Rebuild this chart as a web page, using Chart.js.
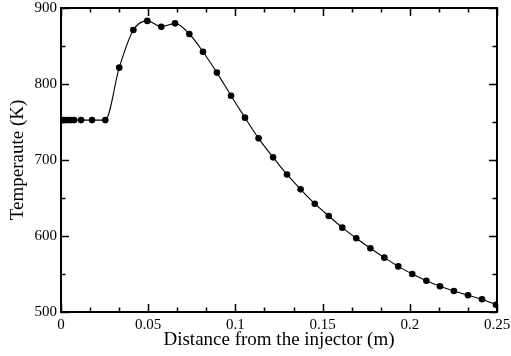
<!DOCTYPE html>
<html>
<head>
<meta charset="utf-8">
<script src="https://cdn.jsdelivr.net/npm/chart.js@4/dist/chart.umd.min.js"></script>
<style>
  html, body { margin: 0; padding: 0; background: #fff; }
  #wrap { width: 511px; height: 356px; }
</style>
</head>
<body>
<div id="wrap"><canvas id="c" width="511" height="356"></canvas></div>
<script>
const distance = [0.0010, 0.0027, 0.0042, 0.0057, 0.0075, 0.0115, 0.0178, 0.0254,
  0.0334, 0.0415, 0.0495, 0.0575, 0.0654, 0.0736, 0.0814, 0.0894, 0.0975, 0.1055,
  0.1133, 0.1216, 0.1296, 0.1374, 0.1455, 0.1535, 0.1613, 0.1693, 0.1774, 0.1854,
  0.1934, 0.2014, 0.2095, 0.2173, 0.2253, 0.2334, 0.2414, 0.2494];
const temperature = [752.5, 752.5, 752.5, 752.5, 752.5, 752.5, 752.5, 752.5,
  821.5, 871, 883, 875.4, 879.8, 865.8, 842.5, 815, 784.6, 755.7,
  728.5, 703.5, 681, 661.4, 642.5, 626.3, 611, 597, 583.8, 571.5,
  560, 550, 541.2, 533.8, 527.6, 522, 516.7, 509.6];
const xTickLabels = [0, 0.05, 0.1, 0.15, 0.2, 0.25];
const yTickLabels = [500, 600, 700, 800, 900];
const xMinorStep = 0.05 / 3;
const yMinorStep = 50;

const serif = "'Liberation Serif', 'Times New Roman', serif";

function zeroPad(s) {
  s.paddingLeft = 0; s.paddingRight = 0; s.paddingTop = 0; s.paddingBottom = 0;
}

const frameTicks = {
  id: 'frameTicks',
  afterDraw(chart) {
    const ctx = chart.ctx;
    const a = chart.chartArea;
    const xs = chart.scales.x, ys = chart.scales.y;
    ctx.save();
    ctx.strokeStyle = '#000';
    ctx.lineWidth = 1.5;
    const nX = Math.round((xs.max - xs.min) / xMinorStep);
    for (let i = 0; i <= nX; i++) {
      const v = xs.min + i * xMinorStep;
      const px = Math.round(xs.getPixelForValue(v)) + 0.5;
      const len = (i % 3 === 0) ? 8 : 4.5;
      ctx.beginPath();
      ctx.moveTo(px, a.bottom); ctx.lineTo(px, a.bottom - len);
      ctx.moveTo(px, a.top); ctx.lineTo(px, a.top + len);
      ctx.stroke();
    }
    const nY = Math.round((ys.max - ys.min) / yMinorStep);
    for (let i = 0; i <= nY; i++) {
      const v = ys.min + i * yMinorStep;
      const py = Math.round(ys.getPixelForValue(v)) + 0.5;
      const len = (i % 2 === 0) ? 8 : 4.5;
      ctx.beginPath();
      ctx.moveTo(a.left, py); ctx.lineTo(a.left + len, py);
      ctx.moveTo(a.right, py); ctx.lineTo(a.right - len, py);
      ctx.stroke();
    }
    ctx.lineWidth = 2;
    ctx.strokeRect(a.left, a.top, a.right - a.left, a.bottom - a.top);
    ctx.restore();
  }
};

new Chart(document.getElementById('c'), {
  type: 'scatter',
  data: {
    datasets: [{
      data: distance.map((d, i) => ({ x: d, y: temperature[i] })),
      showLine: true,
      borderColor: '#000',
      borderWidth: 1.1,
      backgroundColor: '#000',
      pointBackgroundColor: '#000',
      pointBorderColor: '#000',
      pointRadius: 3.3,
      pointBorderWidth: 0,
      cubicInterpolationMode: 'monotone'
    }]
  },
  options: {
    responsive: false,
    animation: false,
    devicePixelRatio: 1,
    layout: { padding: { left: 0, right: 14, top: 8, bottom: 0 } },
    plugins: { legend: { display: false }, tooltip: { enabled: false } },
    scales: {
      x: {
        type: 'linear',
        min: 0, max: 0.25,
        afterBuildTicks: (s) => { s.ticks = xTickLabels.map(v => ({ value: v })); },
        afterFit: (s) => { s.height = 44; zeroPad(s); },
        grid: { display: false, drawTicks: false },
        border: { display: false },
        ticks: {
          color: '#000',
          padding: 4,
          maxRotation: 0,
          font: { family: serif, size: 15 },
          callback: (v) => String(Math.round(v * 100) / 100)
        },
        title: {
          display: true,
          text: 'Distance from the injector (m)',
          color: '#000',
          font: { family: serif, size: 19 },
          padding: { top: 0, bottom: 5 }
        }
      },
      y: {
        type: 'linear',
        min: 500, max: 900,
        afterBuildTicks: (s) => { s.ticks = yTickLabels.map(v => ({ value: v })); },
        afterFit: (s) => { s.width = 61; zeroPad(s); },
        grid: { display: false, drawTicks: false },
        border: { display: false },
        ticks: {
          color: '#000',
          padding: 4,
          font: { family: serif, size: 15 },
          callback: (v) => String(v)
        },
        title: {
          display: true,
          text: 'Temperaute (K)',
          color: '#000',
          font: { family: serif, size: 19 },
          padding: { top: 7, bottom: 0 }
        }
      }
    }
  },
  plugins: [frameTicks]
});
</script>
</body>
</html>
